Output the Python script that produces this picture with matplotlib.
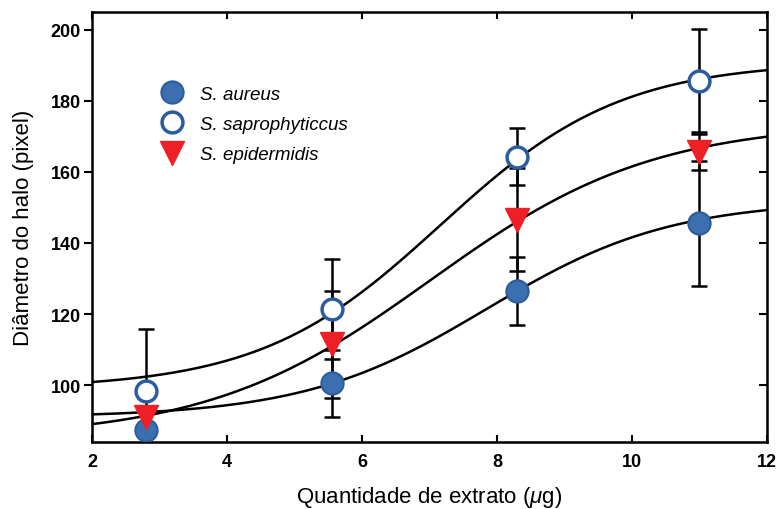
import numpy as np
import matplotlib.pyplot as plt

plt.rcParams['font.family'] = ['Liberation Sans', 'DejaVu Sans']
plt.rcParams['mathtext.fontset'] = 'custom'
plt.rcParams['mathtext.it'] = 'Liberation Sans:italic'

# extract amount (ug) and halo diameters (pixel)
x = [2.8, 5.55, 8.3, 11.0]

aureus = [87.5, 100.5, 126.5, 145.5]
aureus_err = [6, 9.5, 9.5, 17.5]

sapro = [98.3, 121.5, 164.3, 185.6]
sapro_err = [17.5, 14, 8, 14.5]

epid = [91, 111.5, 146.5, 165.5]
epid_err = [3, 15, 14.5, 5]

# sigmoid fit parameters: bottom, top, midpoint, slope
fit_aureus = [91, 152, 7.85, 1.36]
fit_sapro = [99.0, 191, 7.16, 1.34]
fit_epid = [85, 174, 7.01, 1.65]


def sigmoid(t, p):
    return p[0] + (p[1] - p[0]) / (1 + np.exp(-(t - p[2]) / p[3]))


fig = plt.figure(figsize=(7.81, 5.10), dpi=100)
ax = fig.add_axes([0.118, 0.131, 0.864, 0.844])

xx = np.linspace(2, 12, 300)
for p in (fit_sapro, fit_epid, fit_aureus):
    ax.plot(xx, sigmoid(xx, p), color='black', lw=1.8, zorder=2)

eb = dict(fmt='none', ecolor='black', elinewidth=1.8, capsize=5.5, capthick=1.8, zorder=3)
ax.errorbar(x, sapro, yerr=sapro_err, **eb)
ax.errorbar(x, epid, yerr=epid_err, **eb)
ax.errorbar(x, aureus, yerr=aureus_err, **eb)

blue = '#3b6fb0'
ax.plot(x, aureus, 'o', ms=16, mfc=blue, mec='#2b5c9e', mew=1.5, ls='none',
        label='S. aureus', zorder=4)
ax.plot(x, sapro, 'o', ms=15, mfc='white', mec='#2b5c9e', mew=2.5, ls='none',
        label='S. saprophyticcus', zorder=4)
ax.plot(x, epid, 'v', ms=17, mfc='#ee2026', mec='#ee2026', ls='none',
        label='S. epidermidis', zorder=4)

ax.set_xlim(2, 12)
ax.set_ylim(84, 205)
ax.set_xticks([2, 4, 6, 8, 10, 12])
ax.set_yticks([100, 120, 140, 160, 180, 200])
ax.tick_params(axis='x', direction='in', top=True, length=5, width=1.5,
               labelsize=13, pad=8)
ax.tick_params(axis='y', direction='out', length=6, width=1.5, labelsize=13, pad=2)
for lab in ax.get_xticklabels() + ax.get_yticklabels():
    lab.set_fontweight('bold')
for sp in ax.spines.values():
    sp.set_linewidth(1.8)

# inward ticks on the right side
ax2 = ax.twinx()
ax2.set_ylim(ax.get_ylim())
ax2.set_yticks([100, 120, 140, 160, 180, 200])
ax2.tick_params(axis='y', direction='in', length=6, width=1.5, labelright=False)

ax.set_xlabel('Quantidade de extrato ($\\mu$g)', fontsize=16, labelpad=10)
ax.set_ylabel('Diâmetro do halo (pixel)', fontsize=16, labelpad=12)

leg = ax.legend(loc='upper left', bbox_to_anchor=(0.066, 0.868), frameon=False,
                fontsize=13.5, handletextpad=0.5, labelspacing=0.7, numpoints=1)
for t in leg.get_texts():
    t.set_fontstyle('italic')

fig.savefig('out.png', dpi=100)
